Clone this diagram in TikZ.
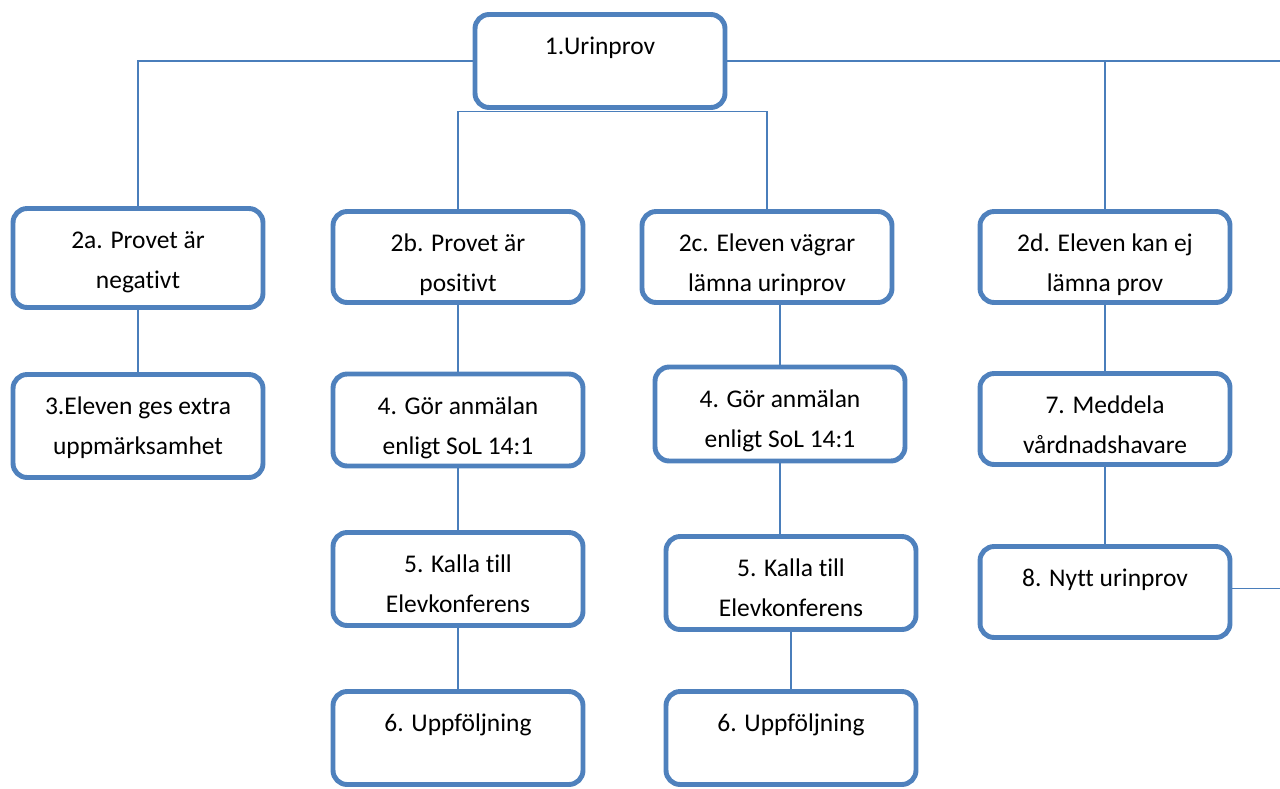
\documentclass[tikz,border=0pt]{standalone}
\usepackage{fontspec}
\setmainfont{Carlito}[Ligatures=NoCommon]
\definecolor{boxblue}{HTML}{4F81BD}
\definecolor{lineblue}{HTML}{4A7EBB}
\newcommand{\boxtext}[2]{\parbox[c][#1][t]{5cm}{\centering\rule{0pt}{23pt}#2}}

\begin{document}
\begin{tikzpicture}[x=0.02cm, y=-0.02cm,
    box node/.style={draw=boxblue, line width=2.8pt, rounded corners=8pt, inner sep=0pt, fill=white, font=\fontsize{14.5}{22.8}\selectfont},
    link/.style={draw=lineblue, line width=0.85pt}]

    \useasboundingbox (0,0) rectangle (1280,788);

    % Top
    \node[box node] (U1) at (600,61) {\boxtext{1.86cm}{1.Urinprov}};

    % Second row
    \node[box node] (N2a) at (138,258) {\boxtext{1.98cm}{2a. Provet är\\negativt}};
    \node[box node] (N2b) at (458,257) {\boxtext{1.82cm}{2b. Provet är\\positivt}};
    \node[box node] (N2c) at (767,257) {\boxtext{1.82cm}{2c. Eleven vägrar\\lämna urinprov}};
    \node[box node] (N2d) at (1105,257) {\boxtext{1.82cm}{2d. Eleven kan ej\\lämna prov}};

    % Left branches
    \node[box node] (N3) at (138,426) {\boxtext{2.06cm}{3.Eleven ges extra\\uppmärksamhet}};
    \node[box node] (N4b) at (458,420) {\boxtext{1.84cm}{4. Gör anmälan\\enligt SoL 14:1}};
    \node[box node] (N5b) at (458,579) {\boxtext{1.86cm}{5. Kalla till\\Elevkonferens}};
    \node[box node] (N6b) at (458,738) {\boxtext{1.86cm}{6. Uppföljning}};

    % Right branches
    \node[box node] (N4c) at (780,414) {\boxtext{1.88cm}{4. Gör anmälan\\enligt SoL 14:1}};
    \node[box node] (N5c) at (791,583) {\boxtext{1.86cm}{5. Kalla till\\Elevkonferens}};
    \node[box node] (N6c) at (791,738) {\boxtext{1.86cm}{6. Uppföljning}};
    \node[box node] (N7) at (1105,419) {\boxtext{1.82cm}{7. Meddela\\vårdnadshavare}};
    \node[box node] (N8) at (1105,592) {\boxtext{1.82cm}{8. Nytt urinprov}};

    \coordinate (E1) at (1280,62);
    \coordinate (E8) at (1280,590);

    \draw[link] (U1.west) -| (N2a.north);
    \draw[link] (U1.east) -- (U1.east -| E1);
    \draw[link] (U1.east) -| (N2d.north);
    \draw[link] ([yshift=-1pt]U1.south) -| (N2b.north);
    \draw[link] ([yshift=-1pt]U1.south) -| (N2c.north);

    \draw[link] (N2a) -- (N3);
    \draw[link] (N2b) -- (N4b);
    \draw[link] (N4b) -- (N5b);
    \draw[link] (N5b) -- (N6b);
    \draw[link] (N4c.north) -- (N4c.north |- N2c.south);
    \draw[link] (N4c.south) -- (N4c.south |- N5c.north);
    \draw[link] (N5c) -- (N6c);
    \draw[link] (N2d) -- (N7);
    \draw[link] (N7) -- (N8);
    \draw[link] ([yshift=2pt]N8.east) -- ([yshift=2pt]N8.east -| E8);

\end{tikzpicture}
\end{document}
